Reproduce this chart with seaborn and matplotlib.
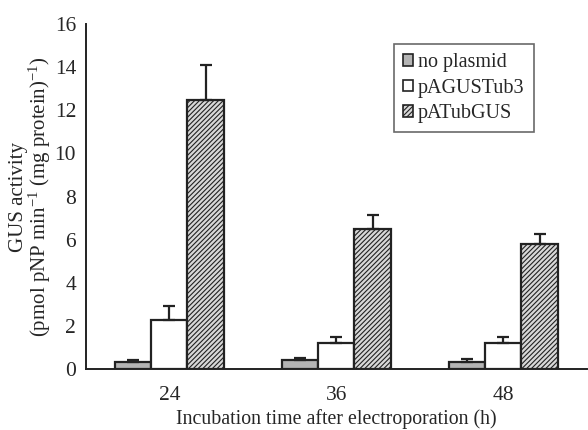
import numpy as np
import pandas as pd
import matplotlib
matplotlib.use("Agg")
import matplotlib.pyplot as plt
import seaborn as sns
from matplotlib.patches import Patch

times = ["24", "36", "48"]
series = ["no plasmid", "pAGUSTub3", "pATubGUS"]
no_plasmid = [0.30, 0.42, 0.34]
pagustub3 = [2.28, 1.20, 1.20]
patubgus = [12.5, 6.48, 5.78]
err_no_plasmid = [0.10, 0.08, 0.13]
err_pagustub3 = [0.62, 0.30, 0.30]
err_patubgus = [1.62, 0.68, 0.50]

values = [no_plasmid, pagustub3, patubgus]
errs = [err_no_plasmid, err_pagustub3, err_patubgus]

rows = []
for s, vals in zip(series, values):
    for t, v in zip(times, vals):
        rows.append({"time": t, "series": s, "value": v})
df = pd.DataFrame(rows)

sns.set_style("white")
plt.rcParams["font.family"] = ["Liberation Serif", "DejaVu Serif"]
plt.rcParams["mathtext.fontset"] = "custom"
plt.rcParams["mathtext.rm"] = "Liberation Serif"
plt.rcParams["mathtext.it"] = "Liberation Serif:italic"
plt.rcParams["hatch.color"] = "#333333"
plt.rcParams["hatch.linewidth"] = 0.8

fig = plt.figure(figsize=(5.88, 4.3), dpi=100)
ax = fig.add_axes([0.146, 0.142, 0.852, 0.802])

colors = ["#b4b4b4", "#ffffff", "#d8d8d8"]
hatches = ["", "", "///////"]
sns.barplot(data=df, x="time", y="value", hue="series", order=times,
            hue_order=series, palette=colors, width=0.65, errorbar=None,
            edgecolor="#222222", linewidth=1.6, ax=ax, legend=False)

bar_conts = list(ax.containers)
for i, cont in enumerate(bar_conts):
    for j, p in enumerate(cont.patches):
        p.set_hatch(hatches[i])
        x = p.get_x() + p.get_width() / 2
        h = p.get_height()
        ax.errorbar([x], [h], yerr=[[0], [errs[i][j]]], fmt="none",
                    ecolor="#222222", elinewidth=1.6, capsize=4.5,
                    capthick=1.6, zorder=3)

ax.set_ylim(0, 16)
ax.set_xlim(-0.5, 2.5)
ax.set_yticks(np.arange(0, 17, 2))
ax.set_yticklabels([str(v) for v in range(0, 17, 2)], fontsize=15.5)
ax.set_xticks([0, 1, 2])
ax.set_xticklabels(times, fontsize=15.5)
ax.set_xticks([0.5, 1.5, 2.5], minor=True)
ax.tick_params(axis="x", which="major", length=0, pad=12)
ax.tick_params(axis="x", which="minor", direction="in", length=4, width=1.2, color="#222222")
ax.tick_params(axis="y", direction="out", length=4, width=1.2, color="#222222", pad=3)

for s in ["top", "right"]:
    ax.spines[s].set_visible(False)
for s in ["left", "bottom"]:
    ax.spines[s].set_color("#222222")
    ax.spines[s].set_linewidth(1.4)

ax.set_xlabel("Incubation time after electroporation (h)", fontsize=14.3, labelpad=3.5)
ax.set_ylabel("GUS activity\n(pmol pNP min$^{\\mathregular{-1}}$ (mg protein)$^{\\mathregular{-1}}$)",
              fontsize=15, labelpad=1, linespacing=0.95)

handles = [Patch(facecolor=colors[k], edgecolor="#222222", hatch=hatches[k], linewidth=1.2,
                 label=series[k]) for k in range(3)]
leg = ax.legend(handles=handles, loc="upper right", bbox_to_anchor=(0.894, 0.942),
                fontsize=14.5, frameon=True, fancybox=False, edgecolor="#444444",
                handlelength=0.5, handleheight=0.5, handletextpad=0.25,
                borderpad=0.45, labelspacing=0.32, borderaxespad=0)
leg.get_frame().set_linewidth(1.2)

fig.savefig("out.png", dpi=100)
